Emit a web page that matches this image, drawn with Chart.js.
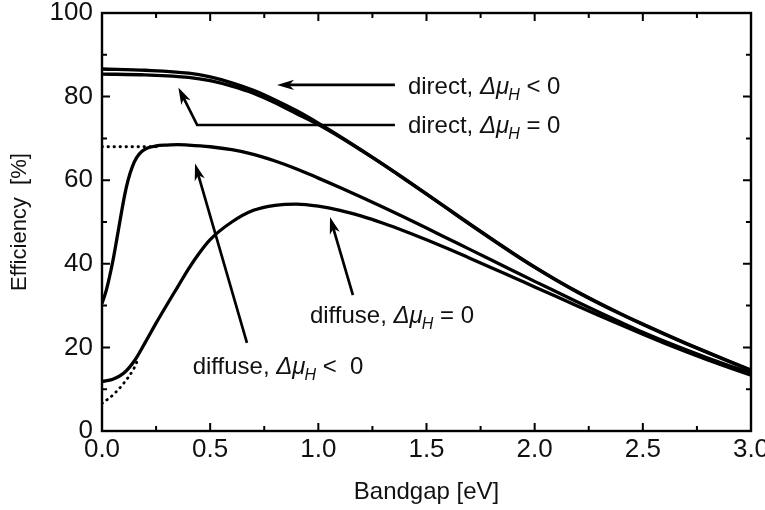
<!DOCTYPE html>
<html>
<head>
<meta charset="utf-8">
<script src="https://cdn.jsdelivr.net/npm/chart.js@4.4.1/dist/chart.umd.min.js"></script>
<style>
  html, body { margin: 0; padding: 0; background: #fff; }
  #wrap { width: 765px; height: 510px; }
</style>
</head>
<body>
<div id="wrap"><canvas id="chart" width="765" height="510"></canvas></div>
<script>
// Axis ticks
const bandgapTicks = [0.0, 0.5, 1.0, 1.5, 2.0, 2.5, 3.0];
const efficiencyTicks = [0, 20, 40, 60, 80, 100];

// direct illumination, Δμ_H < 0
const directNegGap = [0, 0.2, 0.4, 0.5, 0.6, 0.7, 0.8, 0.9, 1.0, 1.1, 1.2, 1.3, 1.4, 1.5, 1.6, 1.7, 1.8, 1.9, 2.0, 2.1, 2.2, 2.3, 2.4, 2.5, 2.6, 2.7, 2.8, 2.9, 3.0];
const directNegEff = [86.6, 86.3, 85.6, 84.7, 83.3, 81.5, 79.2, 76.6, 73.65, 70.5, 67.2, 63.8, 60.3, 56.75, 53.15, 49.55, 46.0, 42.55, 39.25, 36.15, 33.25, 30.55, 28.0, 25.57, 23.24, 20.99, 18.81, 16.69, 14.57];

// direct illumination, Δμ_H = 0
const directZeroGap = [0, 0.2, 0.4, 0.5, 0.6, 0.7, 0.8, 0.9, 1.0, 1.1, 1.2, 1.3, 1.4, 1.5, 1.6, 1.7, 1.8, 1.9, 2.0, 2.1, 2.2, 2.3, 2.4, 2.5, 2.6, 2.7, 2.8, 2.9, 3.0];
const directZeroEff = [85.4, 85.2, 84.6, 83.8, 82.5, 80.8, 78.5, 75.9, 73.3, 70.3, 67.05, 63.7, 60.2, 56.65, 53.05, 49.45, 45.9, 42.45, 39.15, 36.05, 33.15, 30.45, 27.9, 25.47, 23.14, 20.89, 18.71, 16.59, 14.47];

// diffuse illumination, Δμ_H < 0
const diffuseNegGap = [0, 0.02, 0.05, 0.075, 0.09, 0.105, 0.12, 0.14, 0.16, 0.185, 0.21, 0.25, 0.3, 0.35, 0.4, 0.5, 0.6, 0.7, 0.8, 0.9, 1.0, 1.1, 1.2, 1.3, 1.4, 1.5, 1.6, 1.7, 1.8, 1.9, 2.0, 2.1, 2.2, 2.3, 2.4, 2.5, 2.6, 2.7, 2.8, 2.9, 3.0];
const diffuseNegEff = [30.5, 33.7, 40.6, 47.85, 52.3, 56.5, 59.9, 63.2, 65.4, 66.9, 67.7, 68.2, 68.4, 68.5, 68.4, 68.0, 67.3, 66.2, 64.6, 62.7, 60.5, 58.25, 55.9, 53.5, 51.05, 48.55, 46.0, 43.45, 40.9, 38.35, 35.8, 33.3, 30.8, 28.35, 25.95, 23.6, 21.45, 19.4, 17.45, 15.6, 13.85];

// diffuse illumination, Δμ_H = 0
const diffuseZeroGap = [0, 0.05, 0.1, 0.15, 0.2, 0.25, 0.3, 0.35, 0.4, 0.45, 0.5, 0.6, 0.7, 0.8, 0.9, 1.0, 1.1, 1.2, 1.3, 1.4, 1.5, 1.6, 1.7, 1.8, 1.9, 2.0, 2.1, 2.2, 2.3, 2.4, 2.5, 2.6, 2.7, 2.8, 2.9, 3.0];
const diffuseZeroEff = [11.8, 12.4, 13.8, 16.8, 21.2, 25.8, 30.2, 34.5, 38.8, 42.6, 45.8, 50.0, 52.8, 54.0, 54.3, 53.8, 52.8, 51.4, 49.7, 47.8, 45.75, 43.6, 41.35, 39.07, 36.77, 34.47, 32.17, 29.87, 27.59, 25.34, 23.14, 21.01, 18.96, 17.0, 15.13, 13.35];

// dotted low-bandgap limits
const plateauGap = [0, 0.25];
const plateauEff = [68.0, 68.0];
const lowLimitGap = [0, 0.05, 0.1, 0.15, 0.17];
const lowLimitEff = [6.6, 8.6, 11.4, 15.2, 17.6];

const FONT = '"Liberation Sans", Arial, Helvetica, sans-serif';
const INK = '#111';

function pairs(xs, ys) {
  return xs.map((x, i) => ({ x: x, y: ys[i] }));
}

function solid(xs, ys) {
  return {
    data: pairs(xs, ys),
    showLine: true,
    borderColor: '#000',
    borderWidth: 3.3,
    pointRadius: 0,
    cubicInterpolationMode: 'monotone',
    fill: false
  };
}

function dotted(xs, ys) {
  return Object.assign(solid(xs, ys), {
    borderWidth: 2.8,
    borderDash: [0.5, 5.5],
    borderCapStyle: 'round'
  });
}

// Callouts: arrow paths and text anchors, in data units
const callouts = [
  { path: [[1.354, 82.8], [0.809, 82.8]], text: [1.414, 80.6], head: 'direct, ', rel: ' < 0' },
  { path: [[1.354, 73.2], [0.44, 73.2], [0.353, 82.2]], text: [1.414, 71.2], head: 'direct, ', rel: ' = 0' },
  { path: [[1.16, 32.5], [1.054, 51.2]], text: [0.961, 25.9], head: 'diffuse, ', rel: ' = 0' },
  { path: [[0.67, 21.1], [0.43, 64.0]], text: [0.419, 13.6], head: 'diffuse, ', rel: ' <  0' }
];

function drawArrow(ctx, pts) {
  const n = pts.length;
  const tip = pts[n - 1], prev = pts[n - 2];
  const dx = tip[0] - prev[0], dy = tip[1] - prev[1];
  const len = Math.hypot(dx, dy);
  const ux = dx / len, uy = dy / len;
  const headLen = 17, headHalf = 5.2;
  ctx.save();
  ctx.strokeStyle = '#000';
  ctx.fillStyle = '#000';
  ctx.lineWidth = 2.7;
  ctx.lineJoin = 'miter';
  ctx.beginPath();
  ctx.moveTo(pts[0][0], pts[0][1]);
  for (let i = 1; i < n - 1; i++) ctx.lineTo(pts[i][0], pts[i][1]);
  ctx.lineTo(tip[0] - ux * headLen * 0.6, tip[1] - uy * headLen * 0.6);
  ctx.stroke();
  const bx = tip[0] - ux * headLen, by = tip[1] - uy * headLen;
  const nx = tip[0] - ux * headLen * 0.72, ny = tip[1] - uy * headLen * 0.72;
  ctx.beginPath();
  ctx.moveTo(tip[0], tip[1]);
  ctx.lineTo(bx - uy * headHalf, by + ux * headHalf);
  ctx.lineTo(nx, ny);
  ctx.lineTo(bx + uy * headHalf, by - ux * headHalf);
  ctx.closePath();
  ctx.fill();
  ctx.restore();
}

function drawCalloutText(ctx, x, y, head, rel) {
  ctx.save();
  ctx.fillStyle = INK;
  ctx.textBaseline = 'alphabetic';
  ctx.textAlign = 'left';
  ctx.font = '24px ' + FONT;
  ctx.fillText(head, x, y);
  x += ctx.measureText(head).width;
  ctx.font = 'italic 24px ' + FONT;
  ctx.fillText('Δμ', x, y);
  x += ctx.measureText('Δμ').width;
  ctx.font = 'italic 16px ' + FONT;
  ctx.fillText('H', x - 1, y + 6);
  x += ctx.measureText('H').width - 1;
  ctx.font = '24px ' + FONT;
  ctx.fillText(rel, x, y);
  ctx.restore();
}

const calloutPlugin = {
  id: 'callouts',
  afterDatasetsDraw(chart) {
    const { ctx, scales: { x, y } } = chart;
    callouts.forEach(c => {
      const pts = c.path.map(p => [x.getPixelForValue(p[0]), y.getPixelForValue(p[1])]);
      drawArrow(ctx, pts);
      drawCalloutText(ctx, x.getPixelForValue(c.text[0]), y.getPixelForValue(c.text[1]), c.head, c.rel);
    });
  }
};

// Boxed frame with inward major/minor ticks on all four sides
const framePlugin = {
  id: 'frame',
  afterDraw(chart) {
    const { ctx, chartArea: a, scales: { x, y } } = chart;
    ctx.save();
    ctx.strokeStyle = '#000';
    ctx.lineWidth = 2.4;
    ctx.strokeRect(a.left, a.top, a.right - a.left, a.bottom - a.top);
    ctx.lineWidth = 2;
    ctx.beginPath();
    const majorLen = 8, minorLen = 5;
    const xs = [];
    bandgapTicks.forEach((v, i) => {
      xs.push([v, majorLen]);
      if (i < bandgapTicks.length - 1) xs.push([(v + bandgapTicks[i + 1]) / 2, minorLen]);
    });
    xs.forEach(([v, l]) => {
      const px = x.getPixelForValue(v);
      ctx.moveTo(px, a.bottom); ctx.lineTo(px, a.bottom - l);
      ctx.moveTo(px, a.top); ctx.lineTo(px, a.top + l);
    });
    const ys = [];
    efficiencyTicks.forEach((v, i) => {
      ys.push([v, majorLen]);
      if (i < efficiencyTicks.length - 1) ys.push([(v + efficiencyTicks[i + 1]) / 2, minorLen]);
    });
    ys.forEach(([v, l]) => {
      const py = y.getPixelForValue(v);
      ctx.moveTo(a.left, py); ctx.lineTo(a.left + l, py);
      ctx.moveTo(a.right, py); ctx.lineTo(a.right - l, py);
    });
    ctx.stroke();
    ctx.restore();
  }
};

new Chart(document.getElementById('chart'), {
  type: 'scatter',
  data: {
    datasets: [
      solid(directNegGap, directNegEff),
      solid(directZeroGap, directZeroEff),
      solid(diffuseNegGap, diffuseNegEff),
      solid(diffuseZeroGap, diffuseZeroEff),
      dotted(plateauGap, plateauEff),
      dotted(lowLimitGap, lowLimitEff)
    ]
  },
  options: {
    responsive: false,
    animation: false,
    devicePixelRatio: 1,
    layout: { padding: { top: 13, right: 14, left: 0, bottom: 0 } },
    plugins: { legend: { display: false }, tooltip: { enabled: false } },
    scales: {
      x: {
        type: 'linear',
        min: 0, max: 3,
        grid: { display: false, drawTicks: false },
        border: { display: false },
        afterBuildTicks: s => { s.ticks = bandgapTicks.map(v => ({ value: v })); },
        afterFit: s => { s.height = 79; s.paddingLeft = 0; s.paddingRight = 0; },
        ticks: {
          color: INK, padding: 3,
          font: { family: FONT, size: 26 },
          callback: v => Number(v).toFixed(1)
        },
        title: {
          display: true, text: 'Bandgap [eV]', color: INK,
          font: { family: FONT, size: 24 },
          padding: { top: 0, bottom: 3 }
        }
      },
      y: {
        type: 'linear',
        min: 0, max: 100,
        grid: { display: false, drawTicks: false },
        border: { display: false },
        afterBuildTicks: s => { s.ticks = efficiencyTicks.map(v => ({ value: v })); },
        afterFit: s => { s.width = 102; s.paddingTop = 0; s.paddingBottom = 0; },
        ticks: {
          color: INK, padding: 9,
          font: { family: FONT, size: 26 },
          callback: v => String(v)
        },
        title: {
          display: true, text: 'Efficiency  [%]', color: INK,
          font: { family: FONT, size: 22 },
          padding: { top: 7, bottom: 0 }
        }
      }
    }
  },
  plugins: [framePlugin, calloutPlugin]
});
</script>
</body>
</html>
